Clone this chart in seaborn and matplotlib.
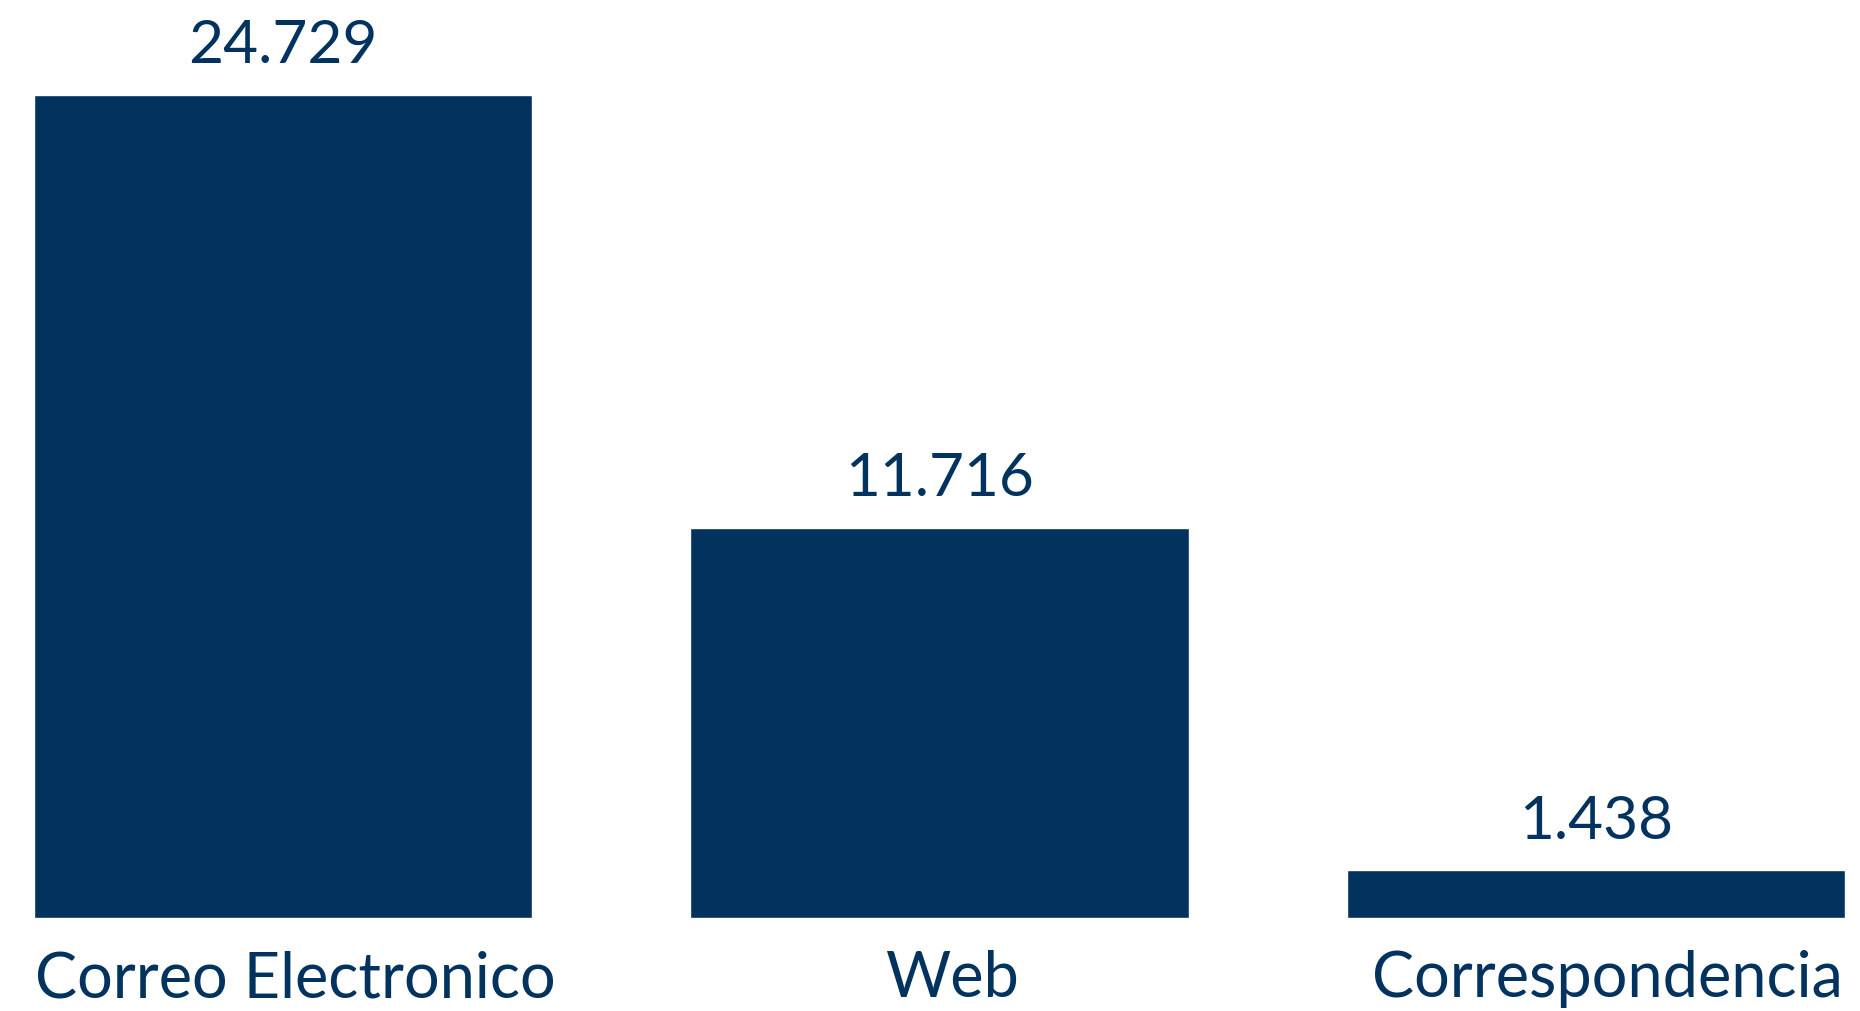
import matplotlib
matplotlib.use("Agg")
import matplotlib.pyplot as plt
import matplotlib.transforms as mtransforms
import seaborn as sns
import pandas as pd

categories = ["Correo Electronico", "Web", "Correspondencia"]
values = [24729, 11716, 1438]
value_labels = ["24.729", "11.716", "1.438"]

COLOR = "#02335f"

sns.set_theme(style="white")
plt.rcParams['font.family'] = ['Lato', 'DejaVu Sans']

df = pd.DataFrame({"cat": categories, "val": values})

fig = plt.figure(figsize=(18.6, 10.12), dpi=100)
ax = fig.add_axes([34/1860, (1012-919)/1012, (1845-34)/1860, 919/1012])
sns.barplot(data=df, x="cat", y="val", color=COLOR, saturation=1, width=0.759, ax=ax)

ax.set_xlim(-0.3795, 2.3795)
ax.set_ylim(0, 24729 * 919 / 823)

for i, (v, lab) in enumerate(zip(values, value_labels)):
    ax.annotate(lab, xy=(i, v), xytext=(0, 23.5), textcoords="offset points",
                ha="center", va="baseline", fontsize=43.5, color=COLOR)

ax.set_xlabel("")
ax.set_ylabel("")
ax.set_yticks([])
ax.tick_params(axis="x", length=0, pad=22.5, labelsize=45.4, labelcolor=COLOR)
shift = mtransforms.ScaledTranslation(12/100, 0, fig.dpi_scale_trans)
for lbl in ax.get_xticklabels():
    lbl.set_transform(lbl.get_transform() + shift)
for s in ax.spines.values():
    s.set_visible(False)
ax.patch.set_alpha(0)

fig.savefig("out.png", dpi=100)
